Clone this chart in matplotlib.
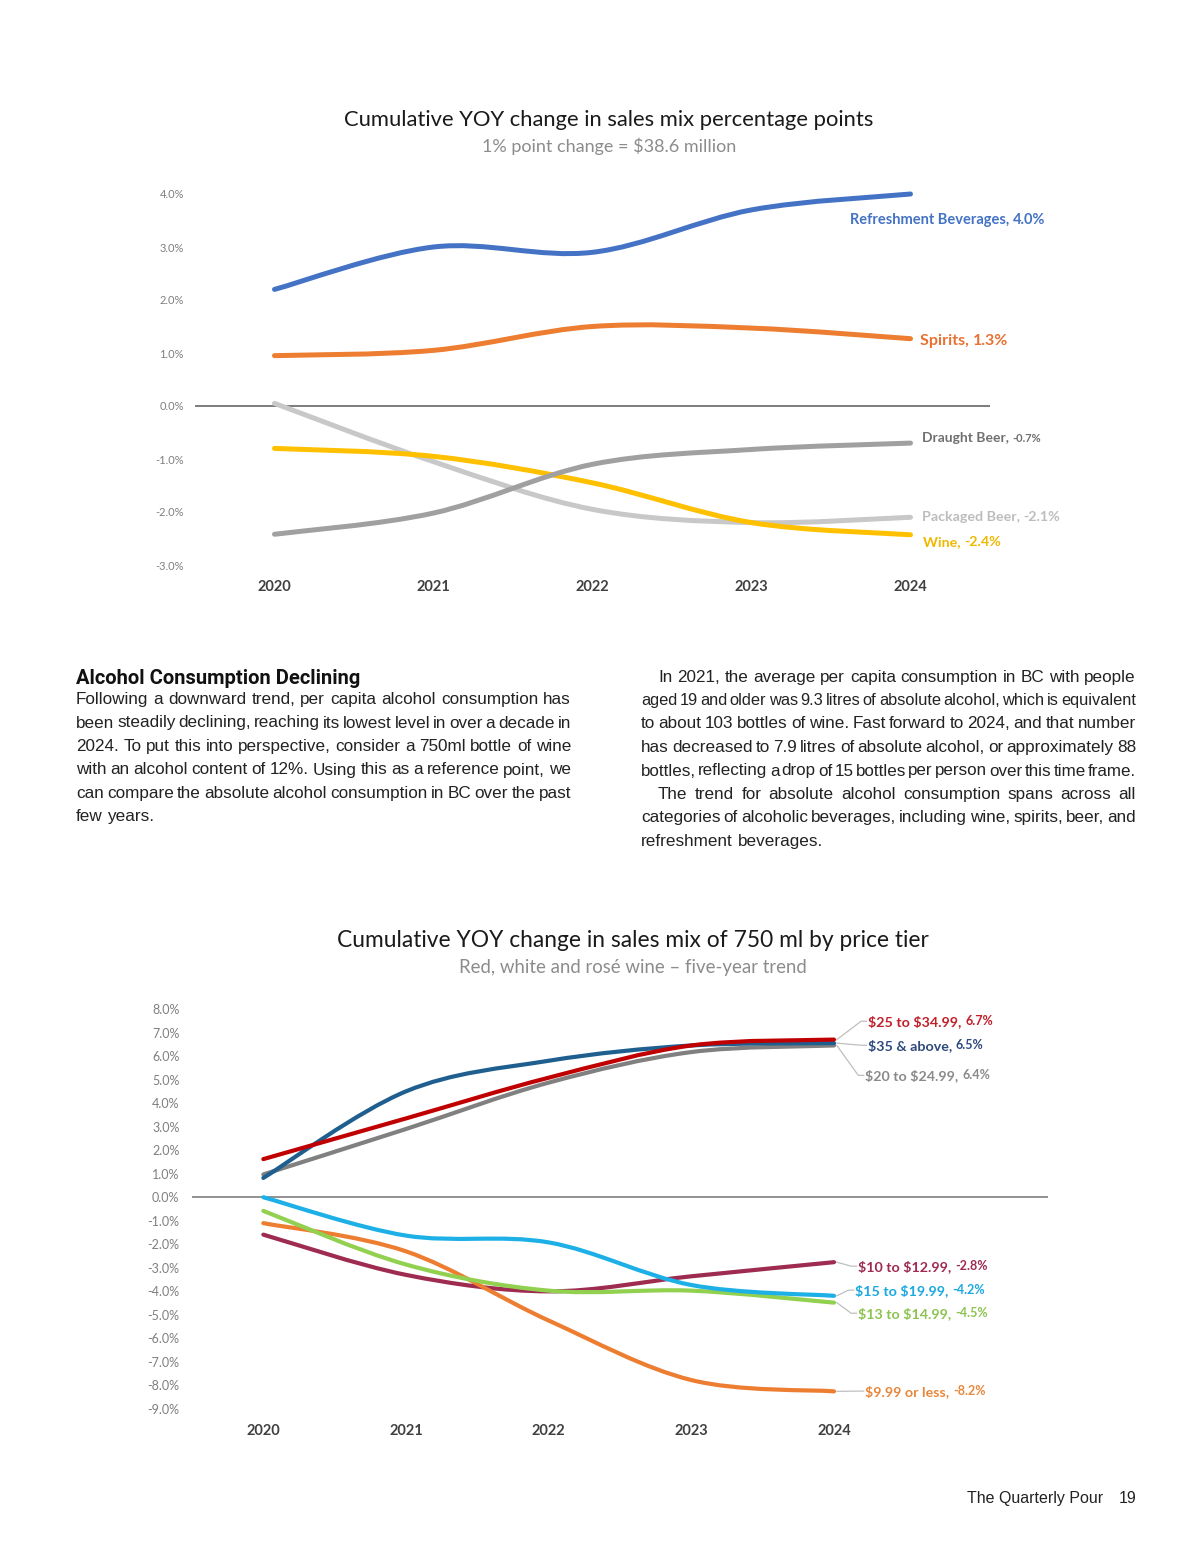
import numpy as np
import matplotlib
matplotlib.use('Agg')
import matplotlib.pyplot as plt
from matplotlib.path import Path
from matplotlib.patches import PathPatch
from matplotlib import font_manager

plt.rcParams['text.parse_math'] = False

W, H = 1200, 1553

# ---- data, chart 1: sales mix by category (percentage points) ----
years = [2020, 2021, 2022, 2023, 2024]
categories = ['Refreshment Beverages', 'Spirits', 'Draught Beer', 'Packaged Beer', 'Wine']
refreshment = [2.2, 3.0, 2.9, 3.7, 4.0]
spirits = [0.95, 1.05, 1.5, 1.47, 1.27]
draught_beer = [-2.42, -2.02, -1.1, -0.82, -0.7]
packaged_beer = [0.05, -1.05, -1.95, -2.2, -2.1]
wine = [-0.8, -0.95, -1.45, -2.2, -2.43]
category_end = ['4.0%', '1.3%', '-0.7%', '-2.1%', '-2.4%']
mix_ticks = [4, 3, 2, 1, 0, -1, -2, -3]

# ---- data, chart 2: 750 ml wine by price tier ----
tiers = ['$25 to $34.99', '$35 & above', '$20 to $24.99', '$10 to $12.99',
         '$15 to $19.99', '$13 to $14.99', '$9.99 or less']
tier_25_35 = [1.62, 3.35, 5.08, 6.45, 6.7]
tier_35_up = [0.82, 4.5, 5.8, 6.45, 6.55]
tier_20_25 = [0.97, 2.9, 4.87, 6.17, 6.45]
tier_10_13 = [-1.59, -3.3, -4.0, -3.36, -2.76]
tier_15_20 = [0.0, -1.63, -1.92, -3.73, -4.19]
tier_13_15 = [-0.58, -2.86, -3.97, -3.97, -4.48]
tier_under_10 = [-1.1, -2.3, -5.24, -7.77, -8.25]
tier_end = ['6.7%', '6.5%', '6.4%', '-2.8%', '-4.2%', '-4.5%', '-8.2%']
tier_ticks = list(range(8, -10, -1))

names = {f.name for f in font_manager.fontManager.ttflist}
HEAD_FONT = 'Liberation Sans Narrow' if 'Liberation Sans Narrow' in names else 'Roboto'
BODY_FONT = 'Liberation Sans'
CHART_FONT = 'Lato'


def px(x, y):
    return x / W, 1 - y / H


def smooth_path(xs, ys):
    # Catmull-Rom style smoothing like Excel's "smoothed line"
    p = np.column_stack([xs, ys]).astype(float)
    ext = np.vstack([p[0], p, p[-1]])
    verts = [p[0]]
    codes = [Path.MOVETO]
    for i in range(len(p) - 1):
        p0, p1, p2, p3 = ext[i], ext[i + 1], ext[i + 2], ext[i + 3]
        verts += [p1 + (p2 - p0) / 6, p2 - (p3 - p1) / 6, p2]
        codes += [Path.CURVE4] * 3
    return Path(verts, codes)


def draw_line(ax, ys, color, lw, z):
    patch = PathPatch(smooth_path(years, ys), fill=False, edgecolor=color, lw=lw,
                      capstyle='round', joinstyle='round', zorder=z, clip_on=False)
    ax.add_patch(patch)


def style_axes(ax, ticks, tick_size, tick_color, xpad, ypad):
    for s in ax.spines.values():
        s.set_visible(False)
    ax.set_xticks(years)
    ax.set_xticklabels([str(y) for y in years], fontfamily=CHART_FONT,
                       fontweight='bold', fontsize=10.5, color='#404040')
    ax.set_yticks(ticks)
    ax.set_yticklabels(['%.1f%%' % t for t in ticks], fontfamily=CHART_FONT,
                       fontsize=tick_size, color=tick_color)
    ax.tick_params(axis='x', length=0, pad=xpad)
    ax.tick_params(axis='y', length=0, pad=ypad)
    ax.patch.set_alpha(0)


fig = plt.figure(figsize=(W / 100, H / 100), dpi=100)
fig.patch.set_facecolor('white')
renderer = fig.canvas.get_renderer()

# ================= chart 1 =================
ax1 = fig.add_axes([195 / W, 1 - 565 / H, 795 / W, 371 / H])
ax1.set_xlim(2019.5, 2024.5)
ax1.set_ylim(-3, 4)
style_axes(ax1, mix_ticks, 8, '#7f7f7f', 11, 8)
ax1.axhline(0, color='#595959', lw=1.1, zorder=1)

mix_series = [refreshment, spirits, draught_beer, packaged_beer, wine]
mix_colors = ['#4472C4', '#ED7D31', '#A0A0A0', '#C8C8C8', '#FFC000']
mix_text_colors = ['#4472C4', '#E97132', '#707070', '#BDBDBD', '#F0B800']
mix_z = [6, 5, 4, 2, 3]
mix_label_xy = [(2023.62, 3.51), (2024.06, 1.23), (2024.07, -0.6), (2024.07, -2.09), (2024.08, -2.57)]
mix_label_size = [10.5, 11.5, 10, 10.3, 10.3]
mix_value_size = [10.5, 11.5, 8, 10.3, 10.3]

for ys, c, tc, z, (lx, ly), fs, vs, name, val in zip(
        mix_series, mix_colors, mix_text_colors, mix_z, mix_label_xy,
        mix_label_size, mix_value_size, categories, category_end):
    draw_line(ax1, ys, c, 3.6, z)
    t = ax1.text(lx, ly, name + ', ', color=tc, fontsize=fs, fontweight='bold',
                 fontfamily=CHART_FONT, ha='left', va='center')
    ax1.annotate(val, xy=(1, 0), xycoords=t, ha='left', va='bottom', color=tc,
                 fontsize=vs, fontweight='bold', fontfamily=CHART_FONT)

fig.text(*px(609, 120), 'Cumulative YOY change in sales mix percentage points',
         ha='center', va='center', fontsize=15.8, fontfamily=CHART_FONT, color='#1a1a1a')
fig.text(*px(609, 146), '1% point change = $38.6 million',
         ha='center', va='center', fontsize=13, fontfamily=CHART_FONT, color='#8c8c8c')

# ================= text block =================
head = fig.text(*px(76, 684), 'Alcohol Consumption Declining', ha='left', va='baseline',
                fontsize=15, fontweight='bold', fontfamily=HEAD_FONT, color='#111111')
hw = head.get_window_extent(renderer).width
head.set_fontsize(min(17, 15 * 285 / hw))

left_lines = [
    'Following a downward trend, per capita alcohol consumption has',
    'been steadily declining, reaching its lowest level in over a decade in',
    '2024. To put this into perspective, consider a 750ml bottle of wine',
    'with an alcohol content of 12%. Using this as a reference point, we',
    'can compare the absolute alcohol consumption in BC over the past',
    'few years.',
]
left_just = [True, True, True, True, True, False]
left_indent = [0, 0, 0, 0, 0, 0]

right_lines = [
    'In 2021, the average per capita consumption in BC with people',
    'aged 19 and older was 9.3 litres of absolute alcohol, which is equivalent',
    'to about 103 bottles of wine. Fast forward to 2024, and that number',
    'has decreased to 7.9 litres of absolute alcohol, or approximately 88',
    'bottles, reflecting a drop of 15 bottles per person over this time frame.',
    'The trend for absolute alcohol consumption spans across all',
    'categories of alcoholic beverages, including wine, spirits, beer, and',
    'refreshment beverages.',
]
right_just = [True, True, True, True, True, True, True, False]
right_indent = [17, 0, 0, 0, 0, 17, 0, 0]

body = dict(fontsize=11, fontfamily=BODY_FONT, color='#222222', ha='left', va='baseline')

# size the body so the first left-column line fills the column with ordinary spacing
probe = fig.text(0, 0, left_lines[0], **body)
BODY_SIZE = 11 * 488 / probe.get_window_extent(renderer).width
probe.remove()
body['fontsize'] = BODY_SIZE

sp_a = fig.text(0, 0, 'x x', **body)
sp_b = fig.text(0, 0, 'xx', **body)
space_w = sp_a.get_window_extent(renderer).width - sp_b.get_window_extent(renderer).width
sp_a.remove()
sp_b.remove()


def justified(lines, just, indent, x0, x1, y0, dy):
    for i, line in enumerate(lines):
        words = line.split(' ')
        start = x0 + indent[i]
        size = BODY_SIZE
        ts = [fig.text(0, 0, w, **body) for w in words]
        widths = [t.get_window_extent(renderer).width for t in ts]
        need = sum(widths) + 2.2 * (len(words) - 1)
        if need > x1 - start:
            # tight line in the original: squeeze it a little
            size = BODY_SIZE * (x1 - start - 2.2 * (len(words) - 1)) / sum(widths)
            for t in ts:
                t.set_fontsize(size)
            widths = [t.get_window_extent(renderer).width for t in ts]
        if just[i] and len(words) > 1:
            gap = (x1 - start - sum(widths)) / (len(words) - 1)
        else:
            gap = space_w
        x = start
        y = y0 + i * dy
        for t, w in zip(ts, widths):
            t.set_position(px(x, y))
            x += w + gap


justified(left_lines, left_just, left_indent, 76, 571, 704, 23.5)
justified(right_lines, right_just, right_indent, 641, 1136, 681.5, 23.5)

# ================= chart 2 =================
ax2 = fig.add_axes([192 / W, 1 - 1409 / H, 856 / W, 400 / H])
ax2.set_xlim(2019.5, 2025.5)
ax2.set_ylim(-9, 8)
style_axes(ax2, tier_ticks, 9, '#7f7f7f', 11, 9)
ax2.axhline(0, color='#7f7f7f', lw=1.2, zorder=1)

tier_series = [tier_25_35, tier_35_up, tier_20_25, tier_10_13, tier_15_20, tier_13_15, tier_under_10]
tier_colors = ['#C00000', '#1F5F8F', '#808080', '#9E2B50', '#1DB0E6', '#92D050', '#ED7D31']
tier_text_colors = ['#C0202A', '#2E4A7D', '#8A8A8A', '#9E2B50', '#1AA8E0', '#8CC350', '#E8873A']
tier_z = [6, 5, 4, 3, 5, 4, 3]
tier_label_xy = [(2024.24, 7.48), (2024.24, 6.46), (2024.22, 5.18), (2024.17, -2.93),
                 (2024.15, -3.95), (2024.17, -4.93), (2024.22, -8.24)]

for ys, c, tc, z, (lx, ly), name, val in zip(
        tier_series, tier_colors, tier_text_colors, tier_z, tier_label_xy, tiers, tier_end):
    draw_line(ax2, ys, c, 3.0, z)
    # leader line: slanted part, then a short horizontal run into the label
    ax2.plot([years[-1] + 0.02, lx - 0.05, lx - 0.012], [ys[-1], ly, ly],
             color='#BFBFBF', lw=0.9, zorder=2, clip_on=False)
    t = ax2.text(lx, ly, name + ', ', ha='left', va='center', color=tc, fontsize=10.3,
                 fontweight='bold', fontfamily=CHART_FONT)
    ax2.annotate(val, xy=(1, 0.04), xycoords=t, ha='left', va='bottom', color=tc,
                 fontsize=9, fontweight='bold', fontfamily=CHART_FONT)

fig.text(*px(633, 941), 'Cumulative YOY change in sales mix of 750 ml by price tier',
         ha='center', va='center', fontsize=16.4, fontfamily=CHART_FONT, color='#1a1a1a')
fig.text(*px(633, 968), 'Red, white and ros\u00e9 wine \u2013 five-year trend',
         ha='center', va='center', fontsize=13.4, fontfamily=CHART_FONT, color='#8c8c8c')

# footer
fig.text(*px(1103, 1503), 'The Quarterly Pour', ha='right', va='baseline',
         fontsize=11.5, fontfamily='Liberation Sans', color='#222222')
fig.text(*px(1136, 1503), '19', ha='right', va='baseline',
         fontsize=11.5, fontfamily='Liberation Sans', color='#222222')

fig.savefig('out.png', dpi=100, facecolor='white')
